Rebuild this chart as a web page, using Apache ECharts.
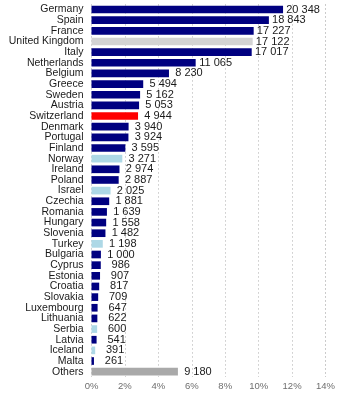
<!DOCTYPE html>
<html>
<head>
<meta charset="utf-8">
<script src="https://cdn.jsdelivr.net/npm/echarts@6/dist/echarts.min.js"></script>
<style>
  html, body { margin: 0; padding: 0; background: #fff; }
  #chart { width: 338px; height: 400px; }
</style>
</head>
<body>
<div id="chart"></div>
<script>
// Countries, top to bottom
const countries = ['Germany','Spain','France','United Kingdom','Italy','Netherlands','Belgium','Greece','Sweden','Austria','Switzerland','Denmark','Portugal','Finland','Norway','Ireland','Poland','Israel','Czechia','Romania','Hungary','Slovenia','Turkey','Bulgaria','Cyprus','Estonia','Croatia','Slovakia','Luxembourg','Lithuania','Serbia','Latvia','Iceland','Malta','Others'];
const counts = [20348,18843,17227,17122,17017,11065,8230,5494,5162,5053,4944,3940,3924,3595,3271,2974,2887,2025,1881,1639,1558,1482,1198,1000,986,907,817,709,647,622,600,541,391,261,9180];
// Colour group per country: eu, uk, ch, nonEu, other
const groups = ['eu','eu','eu','uk','eu','eu','eu','eu','eu','eu','ch','eu','eu','eu','nonEu','eu','eu','nonEu','eu','eu','eu','eu','nonEu','eu','eu','eu','eu','eu','eu','eu','nonEu','eu','nonEu','eu','other'];
const shareTicks = [0,2,4,6,8,10,12,14];

const palette = { eu: '#000080', uk: '#d3d3d3', ch: '#ff0000', nonEu: '#add8e6', other: '#a9a9a9' };
const total = counts.reduce((a, b) => a + b, 0);
const step = total * 0.02;

const fmt = v => String(v).replace(/\B(?=(\d{3})+(?!\d))/g, ' ');

const chart = echarts.init(document.getElementById('chart'), null, { renderer: 'canvas' });
chart.setOption({
  animation: false,
  grid: { left: 91.5, right: 11.3, top: 4.2, bottom: 23, containLabel: false },
  xAxis: {
    type: 'value',
    min: 0,
    max: step * (shareTicks.length - 1),
    interval: step,
    axisLine: { show: false },
    axisTick: { show: false },
    axisLabel: {
      formatter: v => shareTicks[Math.round(v / step)] + '%',
      color: '#6e6e6e', fontFamily: 'Liberation Sans, Arial', fontSize: 9.5, margin: 4
    },
    splitLine: { show: true, lineStyle: { color: '#c8c8c8', type: [1.5, 2.5], width: 1 } }
  },
  yAxis: {
    type: 'category',
    inverse: true,
    data: countries,
    axisLine: { show: false },
    axisTick: { show: false },
    axisLabel: { interval: 0, color: '#1a1a1a', fontFamily: 'Liberation Sans, Arial', fontSize: 10.5, margin: 8 }
  },
  series: [{
    type: 'bar',
    barWidth: '72%',
    data: counts.map((v, i) => ({ value: v, itemStyle: { color: palette[groups[i]] } })),
    label: {
      show: true,
      position: 'right',
      distance: 20,
      align: 'center',
      formatter: p => fmt(p.value),
      color: '#1a1a1a',
      fontFamily: 'Liberation Sans, Arial',
      fontSize: 11
    }
  }]
});
</script>
</body>
</html>
